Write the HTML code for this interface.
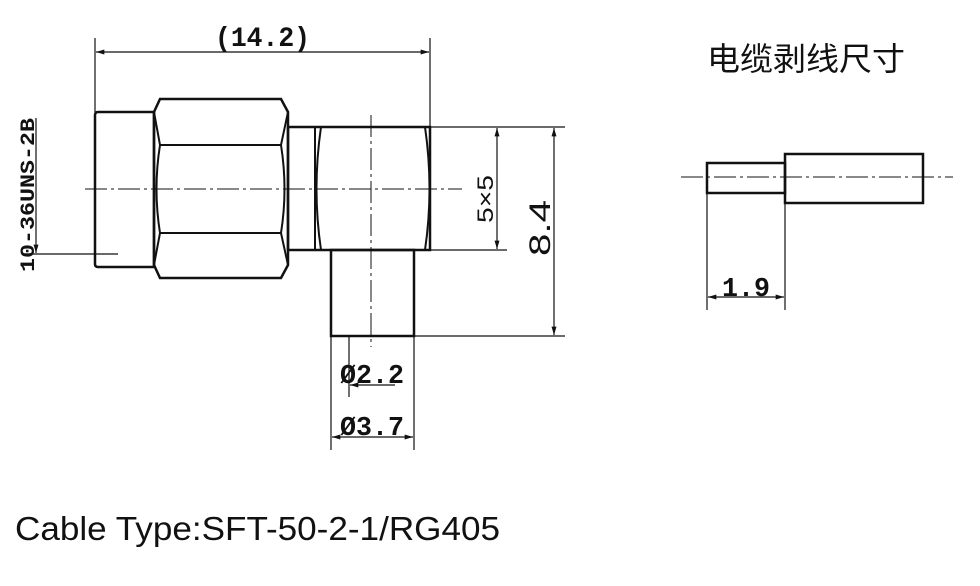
<!DOCTYPE html>
<html><head><meta charset="utf-8"><style>
html,body{margin:0;padding:0;background:#fff;}
svg{display:block;}
</style></head><body>
<svg width="980" height="586" viewBox="0 0 980 586" xmlns="http://www.w3.org/2000/svg">
<defs>
<marker id="a" viewBox="0 0 10 6" refX="10" refY="3" markerWidth="12" markerHeight="5" orient="auto-start-reverse" markerUnits="userSpaceOnUse"><path d="M0,0 L10,3 L0,6 z" fill="#111"/></marker>
</defs>
<g stroke="#111" fill="none">
<line x1="95" y1="38" x2="95" y2="112" stroke-width="1.2"/>
<line x1="430" y1="38" x2="430" y2="127" stroke-width="1.2"/>
<line x1="96" y1="52" x2="429" y2="52" stroke-width="1.2" marker-start="url(#a)" marker-end="url(#a)"/>
<path d="M98,112 H154 V267 H98 Q95,267 95,264 V115 Q95,112 98,112 Z" stroke-width="2.5"/>
<path d="M160,99 H281 L288,112 V265 L281,278 H160 L154,265 V112 Z" stroke-width="2.5"/>
<path d="M154,112 L160,145 H281 L288,112" stroke-width="2"/>
<path d="M154,265 L160,233 H281 L288,265" stroke-width="2"/>
<path d="M160,145 Q153,189 160,233 M281,145 Q288,189 281,233" stroke-width="2"/>
<rect x="288" y="127" width="142" height="123" stroke-width="2.5"/>
<line x1="315" y1="127" x2="315" y2="250" stroke-width="2"/>
<path d="M321,127 Q312,189 321,250 M425,127 Q434,189 425,250" stroke-width="2"/>
<rect x="331" y="250" width="83" height="86" stroke-width="2.5"/>
<line x1="85" y1="189" x2="462" y2="189" stroke-width="1" stroke-dasharray="22,4,3,4"/>
<line x1="371" y1="115" x2="371" y2="347" stroke-width="1" stroke-dasharray="22,4,3,4"/>
<line x1="430" y1="127" x2="565" y2="127" stroke-width="1.2"/>
<line x1="430" y1="250" x2="507" y2="250" stroke-width="1.2"/>
<line x1="414" y1="336" x2="565" y2="336" stroke-width="1.2"/>
<line x1="497" y1="128" x2="497" y2="249" stroke-width="1.2" marker-start="url(#a)" marker-end="url(#a)"/>
<line x1="554" y1="128" x2="554" y2="335" stroke-width="1.2" marker-start="url(#a)" marker-end="url(#a)"/>
<line x1="349" y1="336" x2="349" y2="397" stroke-width="1.2"/>
<line x1="350" y1="385" x2="395" y2="385" stroke-width="1.2" marker-start="url(#a)"/>
<line x1="331" y1="336" x2="331" y2="450" stroke-width="1.2"/>
<line x1="414" y1="336" x2="414" y2="450" stroke-width="1.2"/>
<line x1="332" y1="437" x2="413" y2="437" stroke-width="1.2" marker-start="url(#a)" marker-end="url(#a)"/>
<line x1="25" y1="254" x2="118" y2="254" stroke-width="1.2"/>
<line x1="36" y1="118" x2="36" y2="253" stroke-width="1.2" marker-end="url(#a)"/>
<rect x="707" y="163" width="78" height="30" stroke-width="2.5"/>
<rect x="785" y="154" width="138" height="49" stroke-width="2.5"/>
<line x1="681" y1="177" x2="953" y2="177" stroke-width="1" stroke-dasharray="22,4,3,4"/>
<line x1="707" y1="193" x2="707" y2="310" stroke-width="1.2"/>
<line x1="785" y1="203" x2="785" y2="310" stroke-width="1.2"/>
<line x1="708" y1="297" x2="784" y2="297" stroke-width="1.2" marker-start="url(#a)" marker-end="url(#a)"/>
</g>
<g font-family="'Liberation Mono', monospace" font-weight="bold" fill="#111">
<text x="215" y="46" font-size="28" textLength="95" lengthAdjust="spacingAndGlyphs">(14.2)</text>
<text x="340" y="383" font-size="27" textLength="64" lengthAdjust="spacingAndGlyphs">Ø2.2</text>
<text x="340" y="435" font-size="27" textLength="64" lengthAdjust="spacingAndGlyphs">Ø3.7</text>
<text x="722" y="296" font-size="27" textLength="48" lengthAdjust="spacingAndGlyphs">1.9</text>
<text transform="translate(34,272) rotate(-90)" font-size="20" textLength="154" lengthAdjust="spacingAndGlyphs">10-36UNS-2B</text>
</g>
<g font-family="'Liberation Sans', sans-serif" fill="#111">
<text transform="translate(493,223) rotate(-90)" font-size="22" textLength="48" lengthAdjust="spacingAndGlyphs">5×5</text>
<text transform="translate(550,256) rotate(-90)" font-size="30" textLength="56" lengthAdjust="spacingAndGlyphs">8.4</text>
<text x="15" y="540" font-size="33" textLength="485" lengthAdjust="spacingAndGlyphs">Cable Type:SFT-50-2-1/RG405</text>
<text x="707" y="70" font-size="32" textLength="198" lengthAdjust="spacingAndGlyphs" font-family="'Liberation Sans','Noto Sans CJK SC',sans-serif">电缆剥线尺寸</text>
</g>
</svg>
</body></html>
